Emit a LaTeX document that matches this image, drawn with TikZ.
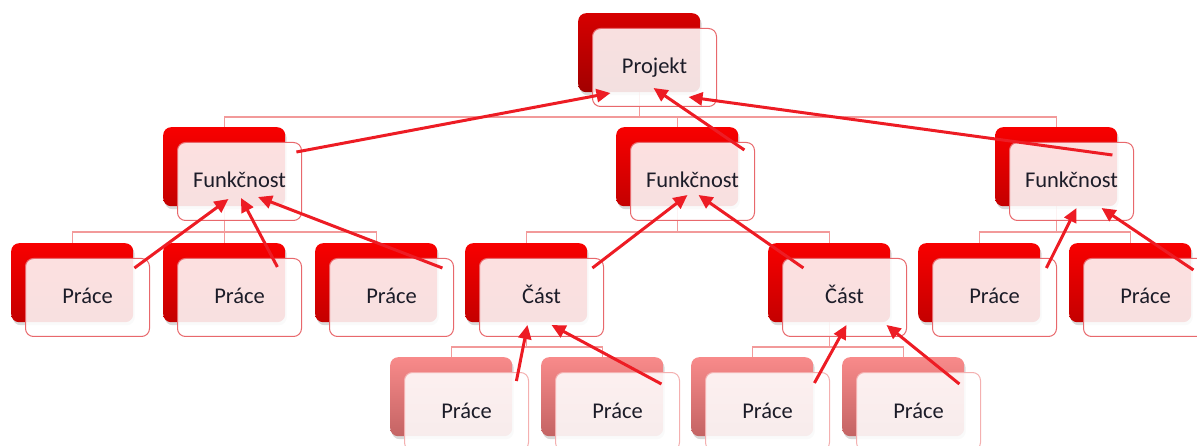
\documentclass[tikz,border=0pt]{standalone}
\usepackage{fontspec}
\setmainfont{Carlito}
\usetikzlibrary{shadows,arrows.meta,calc}
\pgfdeclarelayer{background}
\pgfsetlayers{background,main}
\definecolor{arrred}{HTML}{ED1C24}
\definecolor{connc}{HTML}{F29A9A}
\definecolor{frameA}{HTML}{E8686C}
\definecolor{frameB}{HTML}{F4B0B0}
\definecolor{bAtop}{HTML}{D60000}
\definecolor{bAbot}{HTML}{A20000}
\definecolor{bBtop}{HTML}{F80000}
\definecolor{bBbot}{HTML}{C40000}
\definecolor{bCtop}{HTML}{F88A8A}
\definecolor{bCbot}{HTML}{C46464}
\definecolor{txt}{HTML}{1C1C28}
\tikzset{
  backbox/.style={anchor=north west, minimum width=122pt, minimum height=79pt,
    inner sep=0pt, rounded corners=8pt,
    drop shadow={shadow xshift=1.5pt, shadow yshift=-3pt, opacity=0.3}},
  backA/.style={backbox, top color=bAtop, bottom color=bAbot},
  backB/.style={backbox, top color=bBtop, bottom color=bBbot},
  backC/.style={backbox, top color=bCtop, bottom color=bCbot},
  frontbox/.style={anchor=north west, minimum width=124pt, minimum height=78pt,
    inner sep=0pt, rounded corners=8pt, fill=white, fill opacity=0.88,
    text opacity=1, line width=1pt, text height=17pt, text depth=4pt,
    font=\fontsize{22.5}{27}\selectfont, text=txt},
  frontA/.style={frontbox, draw=frameA},
  frontB/.style={frontbox, draw=frameB},
  connline/.style={draw=connc, line width=1.2pt},
  arr/.style={draw=arrred, line width=3pt, -{Triangle[length=14pt,width=13pt]}},
}
\newcommand\orgbox[6]{%
  \node[back#5] (#1b) at (#2,#3) {};
  \node[front#6] (#1f) at (#2+14,#3+15) {#4};}
\begin{document}
\begin{tikzpicture}[x=1pt,y=-1pt]
\useasboundingbox (0,0) rectangle (1197,446);
% boxes
\orgbox{P}{578}{13}{Projekt}{A}{A}
\orgbox{Fa}{163}{127}{Funkčnost}{B}{A}
\orgbox{Fb}{616}{127}{Funkčnost}{B}{A}
\orgbox{Fc}{995}{127}{Funkčnost}{B}{A}
\orgbox{Wa}{11}{243}{Práce}{B}{A}
\orgbox{Wb}{163}{243}{Práce}{B}{A}
\orgbox{Wc}{315}{243}{Práce}{B}{A}
\orgbox{Ca}{465}{243}{Část}{B}{A}
\orgbox{Cb}{768}{243}{Část}{B}{A}
\orgbox{Wd}{918}{243}{Práce}{B}{A}
\orgbox{We}{1069}{243}{Práce}{B}{A}
\orgbox{La}{390}{357}{Práce}{C}{B}
\orgbox{Lb}{541}{357}{Práce}{C}{B}
\orgbox{Lc}{691}{357}{Práce}{C}{B}
\orgbox{Ld}{842}{357}{Práce}{C}{B}
% tree connectors
\coordinate (bus0) at (0,117);
\coordinate (bus1) at (0,232);
\coordinate (bus2) at (0,347);
\begin{pgfonlayer}{background}
\foreach \c in {Fa,Fb,Fc}
  \draw[connline] (Pb.south) -- (Pb.south |- bus0) -| (\c b.north);
\foreach \c in {Wa,Wb,Wc}
  \draw[connline] (Fab.south) -- (Fab.south |- bus1) -| (\c b.north);
\foreach \c in {Ca,Cb}
  \draw[connline] (Fbb.south) -- (Fbb.south |- bus1) -| (\c b.north);
\foreach \c in {Wd,We}
  \draw[connline] (Fcb.south) -- (Fcb.south |- bus1) -| (\c b.north);
\foreach \c in {La,Lb}
  \draw[connline] (Cab.south) -- (Cab.south |- bus2) -| (\c b.north);
\foreach \c in {Lc,Ld}
  \draw[connline] (Cbb.south) -- (Cbb.south |- bus2) -| (\c b.north);
\end{pgfonlayer}
% arrows
\draw[arr] ([shift={(11,25)}]Fab.north east) -- ([shift={(-44,-14)}]Pf.south);
\draw[arr] ([shift={(6,23)}]Fbb.north east) -- ([shift={(-1,-19)}]Pf.south);
\draw[arr] ([shift={(-5,28)}]Fcb.north east) -- ([shift={(34,-10)}]Pf.south);
\draw[arr] ([shift={(1,25)}]Wab.north east) -- ([shift={(-11,-22)}]Faf.south);
\draw[arr] ([shift={(-8,24)}]Wbb.north east) -- ([shift={(1.5,-23)}]Faf.south);
\draw[arr] ([shift={(5,25)}]Wcb.north east) -- ([shift={(18.5,-24)}]Faf.south);
\draw[arr] ([shift={(5,25)}]Cab.north east) -- ([shift={(-5,-26)}]Fbf.south);
\draw[arr] ([shift={(-87,25)}]Cbb.north east) -- ([shift={(6,-26)}]Fbf.south);
\draw[arr] ([shift={(6,25)}]Wdb.north east) -- ([shift={(5,-13)}]Fcf.south);
\draw[arr] ([shift={(2,27)}]Web.north east) -- ([shift={(30,-13)}]Fcf.south);
\draw[arr] ([shift={(4,24)}]Lab.north east) -- ([shift={(-14,-12)}]Caf.south);
\draw[arr] ([shift={(-2,27)}]Lbb.north east) -- ([shift={(10,-12)}]Caf.south);
\draw[arr] ([shift={(1,26)}]Lcb.north east) -- ([shift={(2,-12)}]Cbf.south);
\draw[arr] ([shift={(-5,27)}]Ldb.north east) -- ([shift={(42,-12)}]Cbf.south);
\end{tikzpicture}
\end{document}
